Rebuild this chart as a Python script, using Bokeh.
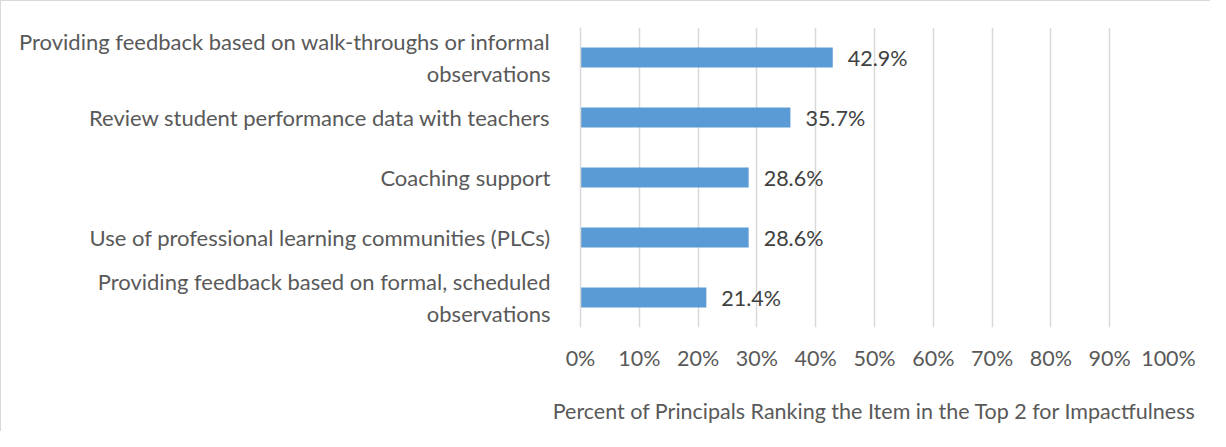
from bokeh.plotting import figure
from bokeh.models import ColumnDataSource, FixedTicker, CustomJSTickFormatter, LabelSet
from bokeh.core.properties import value
from bokeh.embed import file_html
from bokeh.resources import INLINE

categories = [
    "Providing feedback based on formal, scheduled\nobservations",
    "Use of professional learning communities (PLCs)",
    "Coaching support",
    "Review student performance data with teachers",
    "Providing feedback based on walk-throughs or informal\nobservations",
]
values = [21.4, 28.6, 28.6, 35.7, 42.9]
labels = ["21.4%", "28.6%", "28.6%", "35.7%", "42.9%"]
x_ticks = [0, 10, 20, 30, 40, 50, 60, 70, 80, 90, 100]

FONT = "Lato"

src = ColumnDataSource(dict(cat=categories, val=values, lab=labels))

p = figure(width=1210, height=431, y_range=categories, x_range=(0, 100),
           output_backend="svg", toolbar_location=None,
           min_border_left=579, min_border_right=43, min_border_top=26, min_border_bottom=105)

p.hbar(y="cat", right="val", height=0.33, left=0, source=src,
       fill_color="#5B9BD5", line_color=None)

p.add_layout(LabelSet(x="val", y="cat", text="lab", source=src, x_offset=15,
                      text_baseline="middle", text_font=value(FONT), text_font_size="21.5px",
                      text_color="#404040"))

p.xaxis.ticker = FixedTicker(ticks=x_ticks)
p.xaxis.formatter = CustomJSTickFormatter(code="return tick + '%';")
p.xaxis.axis_line_color = None
p.xaxis.major_tick_line_color = None
p.xaxis.minor_tick_line_color = None
p.xaxis.major_label_standoff = 11
p.xaxis.major_label_text_font = FONT
p.xaxis.major_label_text_font_size = "21.5px"
p.xaxis.major_label_text_color = "#595959"
p.xaxis.axis_label = "Percent of Principals Ranking the Item in the Top 2 for Impactfulness"
p.xaxis.axis_label_text_font = FONT
p.xaxis.axis_label_text_font_size = "21.5px"
p.xaxis.axis_label_text_font_style = "normal"
p.xaxis.axis_label_text_color = "#595959"
p.xaxis.axis_label_standoff = 24

p.yaxis.axis_line_color = "#d9d9d9"
p.yaxis.axis_line_width = 1.5
p.yaxis.major_tick_line_color = None
p.yaxis.minor_tick_line_color = None
p.yaxis.major_label_standoff = 24
p.yaxis.major_label_text_font = FONT
p.yaxis.major_label_text_font_size = "22px"
p.yaxis.major_label_text_color = "#595959"

p.xgrid.grid_line_color = "#d9d9d9"
p.xgrid.grid_line_width = 1.5
p.ygrid.grid_line_color = None
p.outline_line_color = None
p.y_range.range_padding = 0
p.styles = {"border-left": "1.5px solid #d9d9d9", "border-top": "1.5px solid #d9d9d9"}

open("out.html", "w").write(file_html(p, INLINE))
